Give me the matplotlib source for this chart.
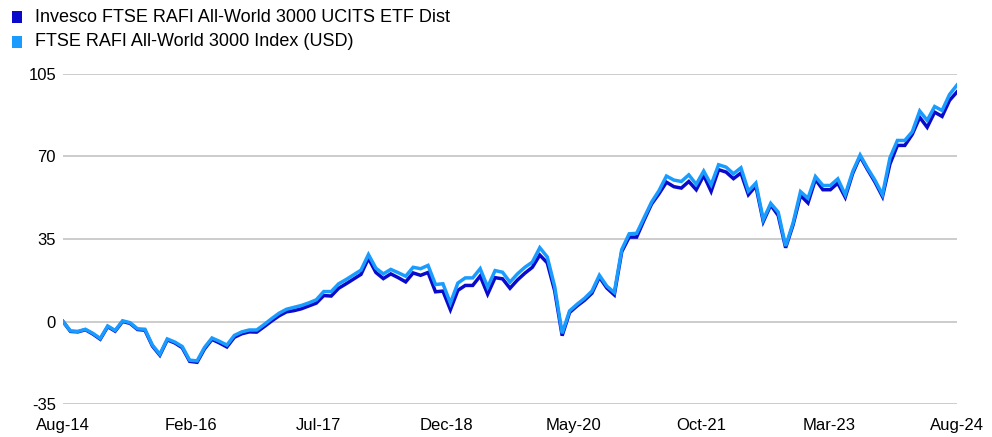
import matplotlib
matplotlib.use("Agg")
import matplotlib.pyplot as plt
from matplotlib.patches import Rectangle
import numpy as np

plt.rcParams["axes.unicode_minus"] = False

# monthly cumulative performance (%), Aug-14 .. Aug-24
fund = [0.0, -4.2, -4.4, -3.5, -5.3, -7.5, -2.2, -4.1, 0.0, -0.8,
        -3.4, -3.7, -10.4, -14.3, -7.8, -9.1, -11.1, -16.9, -17.3, -11.6,
        -7.6, -9.1, -10.8, -6.7, -5.2, -4.4, -4.5, -2.2, 0.2, 2.4,
        4.1, 4.6, 5.4, 6.6, 7.8, 11.0, 10.8, 14.1, 16.0, 18.0,
        20.0, 26.8, 20.8, 18.2, 20.2, 18.6, 16.8, 20.6, 19.6, 20.8,
        12.6, 12.9, 5.0, 13.2, 15.3, 15.3, 19.3, 11.6, 18.6, 18.1,
        14.1, 17.6, 20.5, 23.0, 28.2, 24.9, 13.0, -6.0, 3.8, 6.6,
        9.0, 12.0, 18.8, 14.2, 11.3, 29.6, 35.8, 35.8, 43.0, 49.8,
        54.2, 59.1, 57.2, 56.6, 59.4, 55.9, 62.0, 55.2, 64.4, 63.4,
        60.6, 63.0, 53.8, 57.5, 42.4, 49.4, 45.0, 31.3, 41.0, 53.5,
        50.3, 60.3, 55.9, 55.9, 58.7, 52.7, 62.8, 70.0, 64.4, 59.1,
        53.0, 66.8, 74.7, 74.7, 79.4, 86.6, 82.4, 88.8, 87.0, 93.8,
        97.4]
index = [0.0, -4.0, -4.2, -3.3, -5.0, -7.2, -1.9, -3.8, 0.3, -0.5,
         -3.1, -3.3, -10.0, -13.9, -7.4, -8.7, -10.6, -16.4, -16.7, -11.0,
         -7.0, -8.4, -10.0, -5.9, -4.4, -3.6, -3.6, -1.3, 1.2, 3.5,
         5.2, 6.0, 6.8, 7.9, 9.2, 12.7, 12.7, 16.0, 17.8, 19.8,
         21.8, 28.4, 22.6, 20.2, 22.1, 20.7, 19.2, 23.0, 22.4, 23.8,
         15.7, 16.0, 7.8, 16.3, 18.5, 18.5, 22.4, 14.6, 21.6, 20.9,
         16.7, 20.2, 23.0, 25.2, 31.3, 27.4, 14.8, -5.0, 4.5, 7.3,
         9.8, 12.9, 19.6, 15.0, 12.3, 30.5, 37.2, 37.4, 44.0, 50.6,
         55.5, 61.7, 60.0, 59.4, 62.2, 58.2, 63.8, 58.0, 66.5, 65.5,
         62.7, 65.2, 55.3, 58.7, 43.2, 50.1, 46.4, 32.0, 41.8, 55.1,
         52.3, 61.5, 57.7, 57.7, 60.5, 53.8, 63.6, 70.6, 65.0, 59.9,
         53.8, 69.4, 76.8, 76.8, 80.5, 89.3, 85.3, 91.2, 89.5, 96.3,
         100.3]

x_labels = ["Aug-14", "Feb-16", "Jul-17", "Dec-18", "May-20", "Oct-21", "Mar-23", "Aug-24"]
y_ticks = [-35, 0, 35, 70, 105]
names = ["Invesco FTSE RAFI All-World 3000 UCITS ETF Dist",
         "FTSE RAFI All-World 3000 Index (USD)"]
colors = ["#0A0ACD", "#1A9CFF"]

fam = ["Liberation Sans", "DejaVu Sans"]

fig = plt.figure(figsize=(9.92, 4.37), dpi=100)
ax = fig.add_axes([0.0635, 0.0755, 0.9012, 0.7552])

months = np.arange(len(fund))
ax.plot(months, fund, color=colors[0], lw=2.5, solid_joinstyle="miter")
ax.plot(months, index, color=colors[1], lw=2.5, solid_joinstyle="miter")

ax.set_xlim(0, 120)
ax.set_ylim(-35, 105)
ax.set_yticks(y_ticks)
ax.set_xticks(np.linspace(0, 120, len(x_labels)))
ax.set_xticklabels(x_labels)
for lab in ax.get_xticklabels() + ax.get_yticklabels():
    lab.set_family(fam)
    lab.set_fontsize(12)
ax.tick_params(axis="y", length=0, pad=5)
ax.tick_params(axis="x", length=0, pad=10)
ax.grid(axis="y", color="#C8C8C8", lw=1.3)
ax.set_axisbelow(True)
for s in ax.spines.values():
    s.set_visible(False)

# legend squares + labels
for i, (name, c) in enumerate(zip(names, colors)):
    yc = 1 - (17 + 25 * i) / 437
    fig.add_artist(Rectangle((12 / 992, yc - 5.5 / 437), 10 / 992, 11 / 437,
                             transform=fig.transFigure, color=c, lw=0))
    fig.text(35 / 992, yc, name, family=fam, fontsize=13, va="center", ha="left")

fig.savefig("out.png", dpi=100)
